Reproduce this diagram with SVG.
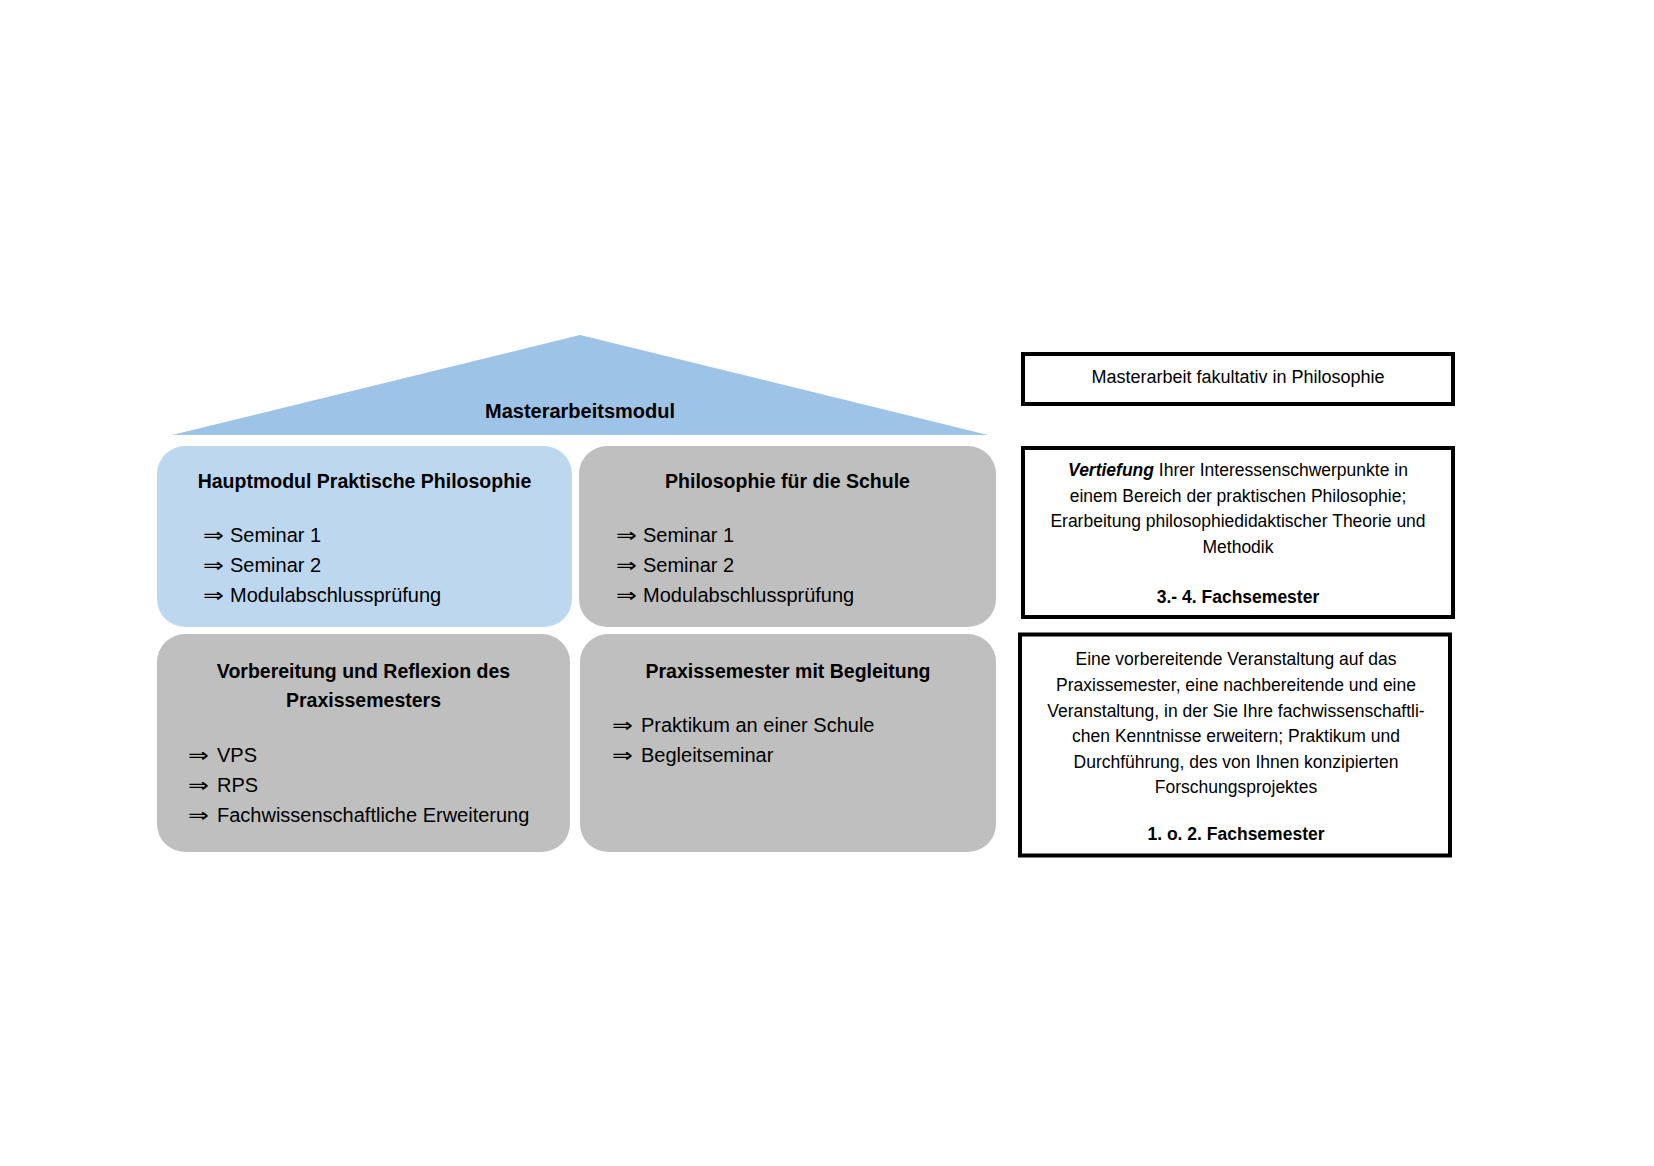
<svg xmlns="http://www.w3.org/2000/svg" width="1654" height="1166" viewBox="0 0 1654 1166">
<style>
text { font-family: "Liberation Sans", Arial, "DejaVu Sans", sans-serif; fill: #000; }
.title { font-size: 19.5px; font-weight: bold; text-anchor: middle; }
.item { font-size: 20px; }
.arr { font-family: "DejaVu Sans", sans-serif; font-size: 20px; }
.note { font-size: 17.5px; text-anchor: middle; }
.nb { font-weight: bold; }
.box { stroke: none; }
.blue { fill: #BDD7EE; }
.gray { fill: #BFBFBF; }
.frame { fill: #FFFFFF; stroke: #000; stroke-width: 4; }
</style>
<rect width="1654" height="1166" fill="#FFFFFF"/>

<g id="roof">
  <polygon points="580,335 988,435 172,435" fill="#9DC3E6"/>
  <text x="580" y="418" class="title" style="font-size:20px">Masterarbeitsmodul</text>
</g>

<g id="hauptmodul">
  <rect class="box blue" x="157" y="446" width="415" height="181" rx="28"/>
  <text x="364.5" y="488" class="title">Hauptmodul Praktische Philosophie</text>
  <text class="arr" x="203" y="542" textLength="21" lengthAdjust="spacingAndGlyphs">⇒</text><text class="item" x="230" y="542">Seminar 1</text>
  <text class="arr" x="203" y="572" textLength="21" lengthAdjust="spacingAndGlyphs">⇒</text><text class="item" x="230" y="572">Seminar 2</text>
  <text class="arr" x="203" y="602" textLength="21" lengthAdjust="spacingAndGlyphs">⇒</text><text class="item" x="230" y="602">Modulabschlussprüfung</text>
</g>

<g id="schule">
  <rect class="box gray" x="579" y="446" width="417" height="181" rx="28"/>
  <text x="787.5" y="488" class="title">Philosophie für die Schule</text>
  <text class="arr" x="616" y="542" textLength="21" lengthAdjust="spacingAndGlyphs">⇒</text><text class="item" x="643" y="542">Seminar 1</text>
  <text class="arr" x="616" y="572" textLength="21" lengthAdjust="spacingAndGlyphs">⇒</text><text class="item" x="643" y="572">Seminar 2</text>
  <text class="arr" x="616" y="602" textLength="21" lengthAdjust="spacingAndGlyphs">⇒</text><text class="item" x="643" y="602">Modulabschlussprüfung</text>
</g>

<g id="vorbereitung">
  <rect class="box gray" x="157" y="634" width="413" height="218" rx="28"/>
  <text x="363.5" y="678" class="title">Vorbereitung und Reflexion des</text>
  <text x="363.5" y="707" class="title">Praxissemesters</text>
  <text class="arr" x="188" y="762" textLength="21" lengthAdjust="spacingAndGlyphs">⇒</text><text class="item" x="217" y="762">VPS</text>
  <text class="arr" x="188" y="792" textLength="21" lengthAdjust="spacingAndGlyphs">⇒</text><text class="item" x="217" y="792">RPS</text>
  <text class="arr" x="188" y="822" textLength="21" lengthAdjust="spacingAndGlyphs">⇒</text><text class="item" x="217" y="822">Fachwissenschaftliche Erweiterung</text>
</g>

<g id="praxissemester">
  <rect class="box gray" x="580" y="634" width="416" height="218" rx="28"/>
  <text x="788" y="678" class="title">Praxissemester mit Begleitung</text>
  <text class="arr" x="612" y="732" textLength="21" lengthAdjust="spacingAndGlyphs">⇒</text><text class="item" x="641" y="732">Praktikum an einer Schule</text>
  <text class="arr" x="612" y="762" textLength="21" lengthAdjust="spacingAndGlyphs">⇒</text><text class="item" x="641" y="762">Begleitseminar</text>
</g>

<g id="note-masterarbeit">
  <rect class="frame" x="1023" y="354" width="430" height="50"/>
  <text x="1238" y="383" class="note" style="font-size:18px">Masterarbeit fakultativ in Philosophie</text>
</g>

<g id="note-vertiefung">
  <rect class="frame" x="1023" y="448" width="430" height="169"/>
  <text x="1238" y="476" class="note"><tspan font-weight="bold" font-style="italic">Vertiefung</tspan> Ihrer Interessenschwerpunkte in</text>
  <text x="1238" y="501.5" class="note">einem Bereich der praktischen Philosophie;</text>
  <text x="1238" y="527" class="note">Erarbeitung philosophiedidaktischer Theorie und</text>
  <text x="1238" y="552.5" class="note">Methodik</text>
  <text x="1238" y="603" class="note nb">3.- 4. Fachsemester</text>
</g>

<g id="note-praxis">
  <rect class="frame" x="1020" y="634.5" width="430" height="221"/>
  <text x="1236" y="665" class="note">Eine vorbereitende Veranstaltung auf das</text>
  <text x="1236" y="691" class="note">Praxissemester, eine nachbereitende und eine</text>
  <text x="1236" y="716.5" class="note">Veranstaltung, in der Sie Ihre fachwissenschaftli-</text>
  <text x="1236" y="742" class="note">chen Kenntnisse erweitern; Praktikum und</text>
  <text x="1236" y="767.5" class="note">Durchführung, des von Ihnen konzipierten</text>
  <text x="1236" y="793" class="note">Forschungsprojektes</text>
  <text x="1236" y="840" class="note nb">1. o. 2. Fachsemester</text>
</g>

<g id="connectors"></g>
</svg>
